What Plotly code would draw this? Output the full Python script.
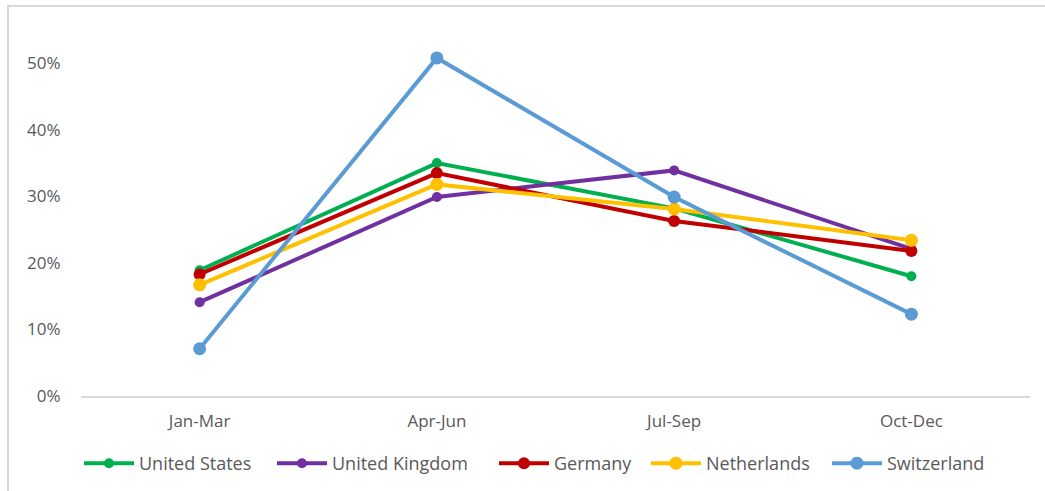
import plotly.graph_objects as go

quarters = ["Jan-Mar", "Apr-Jun", "Jul-Sep", "Oct-Dec"]
us = [0.189, 0.350, 0.282, 0.180]
uk = [0.141, 0.299, 0.339, 0.221]
germany = [0.183, 0.335, 0.263, 0.218]
netherlands = [0.167, 0.318, 0.281, 0.234]
switzerland = [0.071, 0.508, 0.299, 0.123]

series = [
    ("United States", us, "#00B050", 10),
    ("United Kingdom", uk, "#7030A0", 10),
    ("Germany", germany, "#C00000", 12),
    ("Netherlands", netherlands, "#FFC000", 13),
    ("Switzerland", switzerland, "#5B9BD5", 13),
]
legend_left_px = [85, 278, 500, 652, 833]

W, H = 1045, 491
font_family = "Open Sans, Noto Sans, sans-serif"

fig = go.Figure()
layout_legends = {}
for i, (name, vals, color, msize) in enumerate(series):
    lname = "legend" if i == 0 else f"legend{i+1}"
    fig.add_trace(go.Scatter(
        x=quarters, y=vals, name=name, mode="lines+markers",
        line=dict(color=color, width=4),
        marker=dict(color=color, size=msize, symbol="circle"),
        legend=lname,
    ))
    layout_legends[lname] = dict(
        orientation="h", xref="container", yref="container",
        x=(legend_left_px[i] - 6) / W, xanchor="left",
        y=1 - 445 / H, yanchor="top",
        font=dict(size=18, color="#595959"), itemwidth=50,
        bgcolor="rgba(0,0,0,0)",
    )

fig.update_layout(
    width=W, height=H,
    margin=dict(l=81, r=15, t=30, b=95),
    paper_bgcolor="white", plot_bgcolor="white",
    font=dict(family=font_family, size=17, color="#595959"),
    showlegend=True,
    shapes=[dict(type="rect", xref="paper", yref="paper",
                 x0=-81/949 + 8/949, x1=1.2, y0=-0.5, y1=(491-6-95)/366,
                 line=dict(color="#D9D9D9", width=2), fillcolor="rgba(0,0,0,0)",
                 layer="below")],
    **layout_legends,
)
fig.update_xaxes(type="category", range=[-0.5, 3.5], showgrid=False,
                 showline=True, linecolor="#D9D9D9", linewidth=2,
                 ticks="outside", ticklen=9, tickcolor="rgba(0,0,0,0)",
                 zeroline=False, tickfont=dict(size=17, color="#595959"))
fig.update_yaxes(range=[0, 0.55], tickvals=[0, 0.1, 0.2, 0.3, 0.4, 0.5],
                 tickformat=".0%", showgrid=False, zeroline=False, showline=False,
                 ticks="outside", ticklen=16, tickcolor="rgba(0,0,0,0)",
                 tickfont=dict(size=17, color="#595959"))

fig.write_html("out.html")
